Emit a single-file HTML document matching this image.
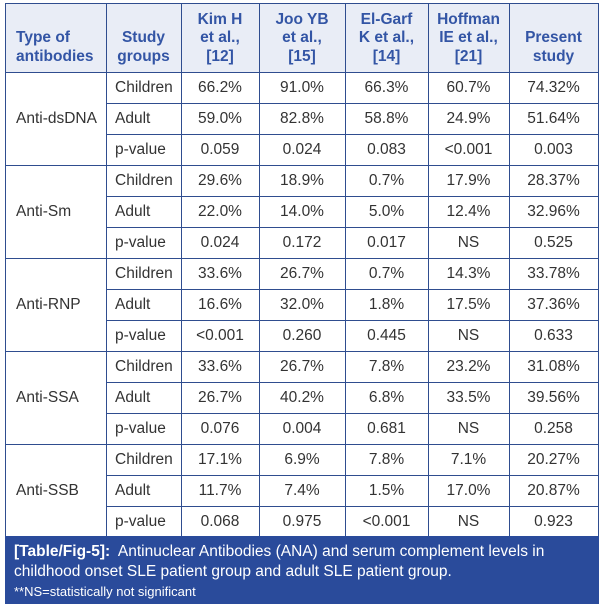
<!DOCTYPE html>
<html><head><meta charset="utf-8">
<style>
html,body{margin:0;padding:0;background:#fff;}
body{width:604px;height:610px;position:relative;overflow:hidden;font-family:"Liberation Sans",Arial,sans-serif;}
.hbg{position:absolute;left:5px;top:3px;width:593px;height:69px;background:#e9edf6;}
.h{position:absolute;height:1px;background:#2f4d8f;}
.v{position:absolute;width:1px;background:#2f4d8f;}
.hd{position:absolute;color:#3355a5;font-weight:bold;font-size:15.5px;line-height:18.5px;text-align:center;}
.c{position:absolute;height:31px;line-height:31px;font-size:15.5px;color:#333;text-align:center;}
.g{position:absolute;left:16px;height:93px;line-height:93px;font-size:15.5px;color:#333;}
.s{position:absolute;left:115px;height:31px;line-height:31px;font-size:15.5px;color:#333;}
.cap{position:absolute;left:5px;top:536px;width:594px;height:68px;background:#2a4b9b;color:#fff;}
.cap div{position:absolute;left:9px;white-space:nowrap;}
</style></head><body>
<div class="hbg"></div>

<!-- header -->
<div class="hd" style="left:16px;top:29.25px;text-align:left;">Type of<br>antibodies</div>
<div class="hd" style="left:106px;width:75px;top:29.25px;">Study<br>groups</div>
<div class="hd" style="left:181px;width:78px;top:10.75px;">Kim H<br>et al.,<br>[12]</div>
<div class="hd" style="left:259px;width:86px;top:10.75px;">Joo YB<br>et al.,<br>[15]</div>
<div class="hd" style="left:345px;width:83px;top:10.75px;">El-Garf<br>K et al.,<br>[14]</div>
<div class="hd" style="left:428px;width:81px;top:10.75px;">Hoffman<br>IE et al.,<br>[21]</div>
<div class="hd" style="left:509px;width:89px;top:29.25px;">Present<br>study</div>

<!-- horizontal lines -->
<div class="h" style="left:5px;width:594px;top:3px;"></div>
<div class="h" style="left:5px;width:594px;top:72px;"></div>
<div class="h" style="left:106px;width:493px;top:103px;"></div>
<div class="h" style="left:106px;width:493px;top:134px;"></div>
<div class="h" style="left:5px;width:594px;top:165px;"></div>
<div class="h" style="left:106px;width:493px;top:196px;"></div>
<div class="h" style="left:106px;width:493px;top:227px;"></div>
<div class="h" style="left:5px;width:594px;top:258px;"></div>
<div class="h" style="left:106px;width:493px;top:289px;"></div>
<div class="h" style="left:106px;width:493px;top:320px;"></div>
<div class="h" style="left:5px;width:594px;top:351px;"></div>
<div class="h" style="left:106px;width:493px;top:382px;"></div>
<div class="h" style="left:106px;width:493px;top:413px;"></div>
<div class="h" style="left:5px;width:594px;top:444px;"></div>
<div class="h" style="left:106px;width:493px;top:475px;"></div>
<div class="h" style="left:106px;width:493px;top:506px;"></div>

<!-- vertical lines -->
<div class="v" style="left:5px;top:3px;height:533px;"></div>
<div class="v" style="left:106px;top:3px;height:533px;"></div>
<div class="v" style="left:181px;top:3px;height:533px;"></div>
<div class="v" style="left:259px;top:3px;height:533px;"></div>
<div class="v" style="left:345px;top:3px;height:533px;"></div>
<div class="v" style="left:428px;top:3px;height:533px;"></div>
<div class="v" style="left:509px;top:3px;height:533px;"></div>
<div class="v" style="left:598px;top:3px;height:533px;"></div>

<!-- groups -->
<div class="g" style="top:72px;">Anti-dsDNA</div>
<div class="g" style="top:165px;">Anti-Sm</div>
<div class="g" style="top:258px;">Anti-RNP</div>
<div class="g" style="top:351px;">Anti-SSA</div>
<div class="g" style="top:444px;">Anti-SSB</div>

<!-- study groups -->
<div class="s" style="top:72px;">Children</div><div class="s" style="top:103px;">Adult</div><div class="s" style="top:134px;">p-value</div>
<div class="s" style="top:165px;">Children</div><div class="s" style="top:196px;">Adult</div><div class="s" style="top:227px;">p-value</div>
<div class="s" style="top:258px;">Children</div><div class="s" style="top:289px;">Adult</div><div class="s" style="top:320px;">p-value</div>
<div class="s" style="top:351px;">Children</div><div class="s" style="top:382px;">Adult</div><div class="s" style="top:413px;">p-value</div>
<div class="s" style="top:444px;">Children</div><div class="s" style="top:475px;">Adult</div><div class="s" style="top:506px;">p-value</div>

<!-- Kim H col 181-259 -->
<div class="c" style="left:181px;width:78px;top:72px;">66.2%</div>
<div class="c" style="left:181px;width:78px;top:103px;">59.0%</div>
<div class="c" style="left:181px;width:78px;top:134px;">0.059</div>
<div class="c" style="left:181px;width:78px;top:165px;">29.6%</div>
<div class="c" style="left:181px;width:78px;top:196px;">22.0%</div>
<div class="c" style="left:181px;width:78px;top:227px;">0.024</div>
<div class="c" style="left:181px;width:78px;top:258px;">33.6%</div>
<div class="c" style="left:181px;width:78px;top:289px;">16.6%</div>
<div class="c" style="left:181px;width:78px;top:320px;">&lt;0.001</div>
<div class="c" style="left:181px;width:78px;top:351px;">33.6%</div>
<div class="c" style="left:181px;width:78px;top:382px;">26.7%</div>
<div class="c" style="left:181px;width:78px;top:413px;">0.076</div>
<div class="c" style="left:181px;width:78px;top:444px;">17.1%</div>
<div class="c" style="left:181px;width:78px;top:475px;">11.7%</div>
<div class="c" style="left:181px;width:78px;top:506px;">0.068</div>

<!-- Joo YB col 259-345 -->
<div class="c" style="left:259px;width:86px;top:72px;">91.0%</div>
<div class="c" style="left:259px;width:86px;top:103px;">82.8%</div>
<div class="c" style="left:259px;width:86px;top:134px;">0.024</div>
<div class="c" style="left:259px;width:86px;top:165px;">18.9%</div>
<div class="c" style="left:259px;width:86px;top:196px;">14.0%</div>
<div class="c" style="left:259px;width:86px;top:227px;">0.172</div>
<div class="c" style="left:259px;width:86px;top:258px;">26.7%</div>
<div class="c" style="left:259px;width:86px;top:289px;">32.0%</div>
<div class="c" style="left:259px;width:86px;top:320px;">0.260</div>
<div class="c" style="left:259px;width:86px;top:351px;">26.7%</div>
<div class="c" style="left:259px;width:86px;top:382px;">40.2%</div>
<div class="c" style="left:259px;width:86px;top:413px;">0.004</div>
<div class="c" style="left:259px;width:86px;top:444px;">6.9%</div>
<div class="c" style="left:259px;width:86px;top:475px;">7.4%</div>
<div class="c" style="left:259px;width:86px;top:506px;">0.975</div>

<!-- El-Garf col 345-428 -->
<div class="c" style="left:345px;width:83px;top:72px;">66.3%</div>
<div class="c" style="left:345px;width:83px;top:103px;">58.8%</div>
<div class="c" style="left:345px;width:83px;top:134px;">0.083</div>
<div class="c" style="left:345px;width:83px;top:165px;">0.7%</div>
<div class="c" style="left:345px;width:83px;top:196px;">5.0%</div>
<div class="c" style="left:345px;width:83px;top:227px;">0.017</div>
<div class="c" style="left:345px;width:83px;top:258px;">0.7%</div>
<div class="c" style="left:345px;width:83px;top:289px;">1.8%</div>
<div class="c" style="left:345px;width:83px;top:320px;">0.445</div>
<div class="c" style="left:345px;width:83px;top:351px;">7.8%</div>
<div class="c" style="left:345px;width:83px;top:382px;">6.8%</div>
<div class="c" style="left:345px;width:83px;top:413px;">0.681</div>
<div class="c" style="left:345px;width:83px;top:444px;">7.8%</div>
<div class="c" style="left:345px;width:83px;top:475px;">1.5%</div>
<div class="c" style="left:345px;width:83px;top:506px;">&lt;0.001</div>

<!-- Hoffman col 428-509 -->
<div class="c" style="left:428px;width:81px;top:72px;">60.7%</div>
<div class="c" style="left:428px;width:81px;top:103px;">24.9%</div>
<div class="c" style="left:428px;width:81px;top:134px;">&lt;0.001</div>
<div class="c" style="left:428px;width:81px;top:165px;">17.9%</div>
<div class="c" style="left:428px;width:81px;top:196px;">12.4%</div>
<div class="c" style="left:428px;width:81px;top:227px;">NS</div>
<div class="c" style="left:428px;width:81px;top:258px;">14.3%</div>
<div class="c" style="left:428px;width:81px;top:289px;">17.5%</div>
<div class="c" style="left:428px;width:81px;top:320px;">NS</div>
<div class="c" style="left:428px;width:81px;top:351px;">23.2%</div>
<div class="c" style="left:428px;width:81px;top:382px;">33.5%</div>
<div class="c" style="left:428px;width:81px;top:413px;">NS</div>
<div class="c" style="left:428px;width:81px;top:444px;">7.1%</div>
<div class="c" style="left:428px;width:81px;top:475px;">17.0%</div>
<div class="c" style="left:428px;width:81px;top:506px;">NS</div>

<!-- Present col 509-598 -->
<div class="c" style="left:509px;width:89px;top:72px;">74.32%</div>
<div class="c" style="left:509px;width:89px;top:103px;">51.64%</div>
<div class="c" style="left:509px;width:89px;top:134px;">0.003</div>
<div class="c" style="left:509px;width:89px;top:165px;">28.37%</div>
<div class="c" style="left:509px;width:89px;top:196px;">32.96%</div>
<div class="c" style="left:509px;width:89px;top:227px;">0.525</div>
<div class="c" style="left:509px;width:89px;top:258px;">33.78%</div>
<div class="c" style="left:509px;width:89px;top:289px;">37.36%</div>
<div class="c" style="left:509px;width:89px;top:320px;">0.633</div>
<div class="c" style="left:509px;width:89px;top:351px;">31.08%</div>
<div class="c" style="left:509px;width:89px;top:382px;">39.56%</div>
<div class="c" style="left:509px;width:89px;top:413px;">0.258</div>
<div class="c" style="left:509px;width:89px;top:444px;">20.27%</div>
<div class="c" style="left:509px;width:89px;top:475px;">20.87%</div>
<div class="c" style="left:509px;width:89px;top:506px;">0.923</div>

<!-- caption -->
<div class="cap">
  <div style="top:6px;font-size:15.5px;line-height:20px;"><b>[Table/Fig-5]:</b>&nbsp; Antinuclear Antibodies (ANA) and serum complement levels in</div>
  <div style="top:26px;font-size:15.5px;line-height:20px;">childhood onset SLE patient group and adult SLE patient group.</div>
  <div style="top:47px;font-size:13px;line-height:18px;">**NS=statistically not significant</div>
</div>
</body></html>
